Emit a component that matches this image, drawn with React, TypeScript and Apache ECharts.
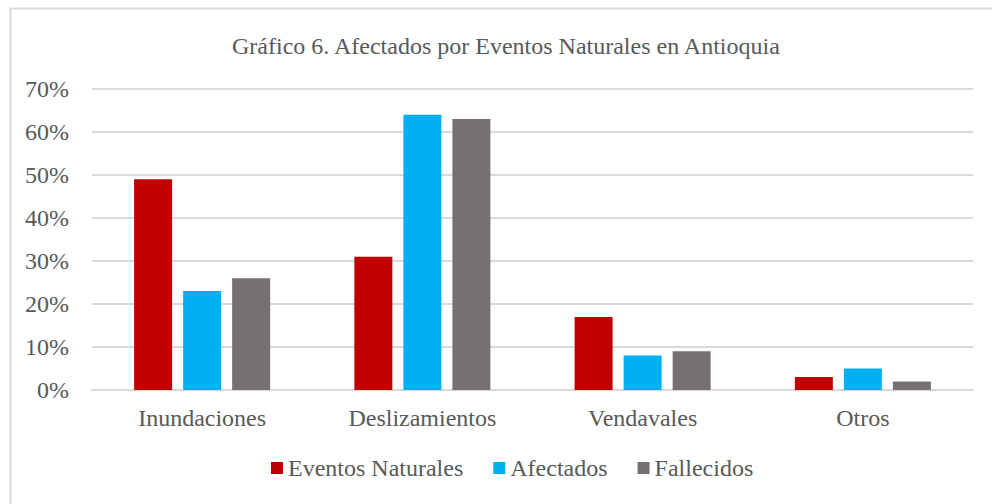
import React, { useEffect, useRef } from "react";
import * as echarts from "echarts";

const categories = ["Inundaciones", "Deslizamientos", "Vendavales", "Otros"];
const eventosNaturales = [49, 31, 17, 3];
const afectados = [23, 64, 8, 5];
const fallecidos = [26, 63, 9, 2];
const seriesNames = ["Eventos Naturales", "Afectados", "Fallecidos"];
const titleText = "Gráfico 6. Afectados por Eventos Naturales en Antioquia";

const FONT = "Liberation Serif";
const TEXT = "#595959";

export default function App() {
  const ref = useRef<HTMLDivElement>(null);
  useEffect(() => {
    if (!ref.current) return;
    const chart = echarts.init(ref.current, null, { renderer: "svg" });
    const mk = (name: string, data: number[], color: string) => ({
      name,
      type: "bar",
      data,
      barWidth: 38,
      barGap: "29%",
      itemStyle: { color },
    });
    chart.setOption({
      animation: false,
      backgroundColor: "#ffffff",
      textStyle: { fontFamily: FONT, color: TEXT },
      title: {
        text: titleText,
        left: 227,
        top: 29,
        textStyle: { fontFamily: FONT, fontSize: 24, fontWeight: "normal", color: TEXT },
      },
      graphic: [
        {
          type: "rect",
          shape: { x: 10.5, y: 8.5, width: 1000, height: 600 },
          style: { fill: "none", stroke: "#d9d9d9", lineWidth: 2 },
          silent: true,
        },
      ],
      legend: {
        top: 451,
        left: 266,
        itemWidth: 12,
        itemHeight: 12,
        itemGap: 30,
        icon: "rect",
        formatter: "{a|{name}}",
        textStyle: {
          fontFamily: FONT,
          fontSize: 24,
          color: TEXT,
          rich: { a: { fontFamily: FONT, fontSize: 24, color: TEXT } },
        },
        data: seriesNames,
      },
      grid: { left: 92, right: 19, top: 89, bottom: 114, containLabel: false },
      xAxis: {
        type: "category",
        data: categories,
        axisLine: { lineStyle: { color: "#d9d9d9", width: 2 } },
        axisTick: { show: false },
        axisLabel: { fontFamily: FONT, fontSize: 24, color: TEXT, margin: 16 },
      },
      yAxis: {
        type: "value",
        min: 0,
        max: 70,
        interval: 10,
        axisLine: { show: false },
        axisTick: { show: false },
        splitLine: { lineStyle: { color: "#d9d9d9", width: 2 } },
        axisLabel: { fontFamily: FONT, fontSize: 24, color: TEXT, formatter: "{value}%", margin: 23 },
      },
      series: [
        mk(seriesNames[0], eventosNaturales, "#C00000"),
        mk(seriesNames[1], afectados, "#00B0F0"),
        mk(seriesNames[2], fallecidos, "#767171"),
      ],
    });
    return () => chart.dispose();
  }, []);
  return (
    <div
      ref={ref}
      style={{ position: "fixed", left: 0, top: 0, width: 992, height: 504 }}
    />
  );
}
